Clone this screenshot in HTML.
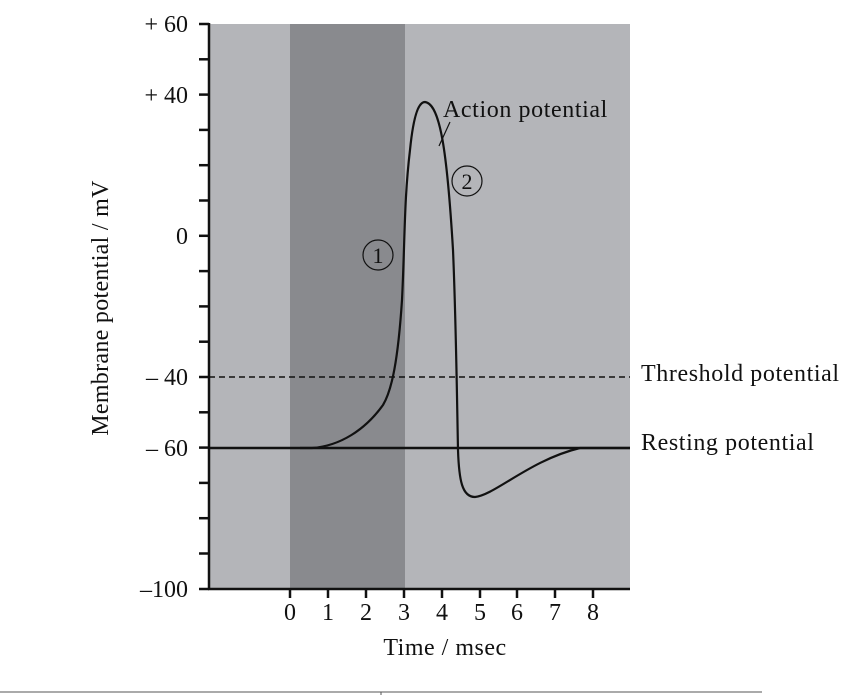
<!DOCTYPE html>
<html><head><style>body{margin:0;background:#fff}svg{display:block}text{font-family:"Liberation Serif",serif;fill:#111}</style></head><body>
<svg width="867" height="695" viewBox="0 0 867 695">
<rect x="209" y="24" width="421" height="565" fill="#b4b5b9"/>
<rect x="290" y="24" width="115" height="565" fill="#898a8e"/>
<g stroke="#111" stroke-width="2.5">
<line x1="209" y1="23" x2="209" y2="590"/>
<line x1="208" y1="589" x2="630" y2="589"/>
</g>
<g stroke="#111" stroke-width="2.5">
<line x1="199" y1="24" x2="209" y2="24"/><line x1="199" y1="59.3" x2="209" y2="59.3"/>
<line x1="199" y1="94.6" x2="209" y2="94.6"/><line x1="199" y1="129.9" x2="209" y2="129.9"/>
<line x1="199" y1="165.2" x2="209" y2="165.2"/><line x1="199" y1="200.5" x2="209" y2="200.5"/>
<line x1="199" y1="235.8" x2="209" y2="235.8"/><line x1="199" y1="271.1" x2="209" y2="271.1"/>
<line x1="199" y1="306.4" x2="209" y2="306.4"/><line x1="199" y1="341.7" x2="209" y2="341.7"/>
<line x1="199" y1="377" x2="209" y2="377"/><line x1="199" y1="412.3" x2="209" y2="412.3"/>
<line x1="199" y1="447.6" x2="209" y2="447.6"/><line x1="199" y1="482.9" x2="209" y2="482.9"/>
<line x1="199" y1="518.2" x2="209" y2="518.2"/><line x1="199" y1="553.5" x2="209" y2="553.5"/>
<line x1="199" y1="589" x2="209" y2="589"/>
<line x1="290" y1="589" x2="290" y2="598"/><line x1="328" y1="589" x2="328" y2="598"/>
<line x1="366" y1="589" x2="366" y2="598"/><line x1="404" y1="589" x2="404" y2="598"/>
<line x1="442" y1="589" x2="442" y2="598"/><line x1="480" y1="589" x2="480" y2="598"/>
<line x1="517" y1="589" x2="517" y2="598"/><line x1="555" y1="589" x2="555" y2="598"/>
<line x1="593" y1="589" x2="593" y2="598"/>
</g>
<g font-size="24" text-anchor="end">
<text x="188" y="32">+ 60</text><text x="188" y="103">+ 40</text><text x="188" y="244">0</text>
<text x="188" y="385">– 40</text><text x="188" y="456">– 60</text><text x="188" y="597">–100</text>
</g>
<g font-size="24" text-anchor="middle">
<text x="290" y="620">0</text><text x="328" y="620">1</text><text x="366" y="620">2</text><text x="404" y="620">3</text>
<text x="442" y="620">4</text><text x="480" y="620">5</text><text x="517" y="620">6</text><text x="555" y="620">7</text><text x="593" y="620">8</text>
<text x="445" y="655" letter-spacing="0.5">Time / msec</text>
</g>
<text font-size="24" text-anchor="middle" letter-spacing="0.3" transform="translate(108,308) rotate(-90)">Membrane potential / mV</text>
<line x1="209" y1="377" x2="630" y2="377" stroke="#111" stroke-width="1.5" stroke-dasharray="6,4"/>
<line x1="209" y1="448" x2="630" y2="448" stroke="#111" stroke-width="2.5"/>
<path d="M300 448 L312 448 C340 446 365 430 383 405 C392 390 398 360 402 300 C405 240 404 200 410 150 C414 110 420 102 425 102 C440 104 447 150 453 250 C456 320 457 400 458 450 C459 480 462 497 475 497 C495 495 530 460 580 448 L630 448" fill="none" stroke="#111" stroke-width="2.2"/>
<line x1="439" y1="146" x2="450" y2="122" stroke="#111" stroke-width="1.2"/>
<circle cx="378" cy="255" r="15" fill="none" stroke="#111" stroke-width="1.2"/>
<text x="378" y="263" font-size="22" text-anchor="middle">1</text>
<circle cx="467" cy="181" r="15" fill="none" stroke="#111" stroke-width="1.2"/>
<text x="467" y="189" font-size="22" text-anchor="middle">2</text>
<g font-size="24" letter-spacing="0.6">
<text x="443" y="117">Action potential</text>
<text x="641" y="381">Threshold potential</text>
<text x="641" y="450">Resting potential</text>
</g>
<line x1="0" y1="692" x2="762" y2="692" stroke="#555" stroke-width="1"/>
<line x1="381" y1="692" x2="381" y2="695" stroke="#555" stroke-width="1"/>
</svg>
</body></html>
